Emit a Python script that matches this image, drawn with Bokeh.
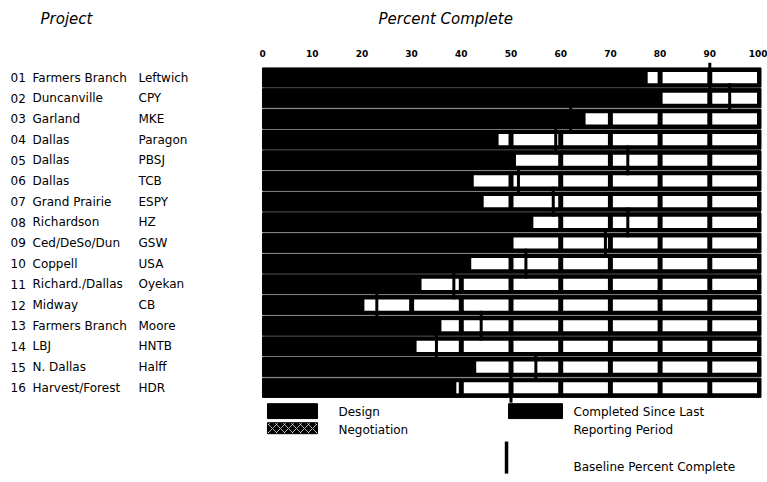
from bokeh.plotting import figure
from bokeh.models import Range1d, FixedTicker
from bokeh.layouts import column
from bokeh.embed import file_html
from bokeh.resources import INLINE
from bokeh.core.properties import value

# ---------------- data ----------------
proj_ids = ["01", "02", "03", "04", "05", "06", "07", "08",
            "09", "10", "11", "12", "13", "14", "15", "16"]
cities = ["Farmers Branch", "Duncanville", "Garland", "Dallas", "Dallas", "Dallas",
          "Grand Prairie", "Richardson", "Ced/DeSo/Dun", "Coppell", "Richard./Dallas",
          "Midway", "Farmers Branch", "LBJ", "N. Dallas", "Harvest/Forest"]
firms = ["Leftwich", "CPY", "MKE", "Paragon", "PBSJ", "TCB", "ESPY", "HZ",
         "GSW", "USA", "Oyekan", "CB", "Moore", "HNTB", "Halff", "HDR"]
percent_complete = [77, 80, 64.5, 47, 50.5, 42, 44, 54, 50, 41.5, 31.5, 20, 35.5, 30.5, 42.5, 38.5]
baseline_complete = [90, 94, 62, 59, 73.5, 51.5, 58.5, 73.5, 69, 53, 38.5, 23, 44, 35, 55, 50]
tick_values = [0, 10, 20, 30, 40, 50, 60, 70, 80, 90, 100]
legend_labels = ["Design", "Negotiation", "Completed Since Last", "Reporting Period",
                 "Baseline Percent Complete"]
headers = ["Project", "Percent Complete"]

FONT = "DejaVu Sans"
rows = list(range(1, len(cities) + 1))
full = 100
X_RANGE = (-52.72, 101.61)

# ---------------- header strip ----------------
head = figure(width=767, height=36, x_range=Range1d(*X_RANGE), y_range=Range1d(0, 1),
              x_axis_location=None, y_axis_location=None,
              toolbar_location=None, output_backend="svg",
              min_border=0)
head.grid.visible = False
head.outline_line_color = None
head.text(x=[-44.67, 23.34], y=[0.5, 0.5], text=headers, text_font=value(FONT),
          text_font_style="italic", text_font_size="15px", text_baseline="middle",
          text_color="black")

# ---------------- main chart ----------------
p = figure(width=767, height=446,
           x_range=Range1d(*X_RANGE), y_range=Range1d(20.58, 0.176),
           x_axis_location="above", y_axis_location=None,
           toolbar_location=None, output_backend="svg",
           min_border_left=0, min_border_right=0, min_border_bottom=0, min_border_top=24)
p.grid.visible = False
p.outline_line_color = None
p.background_fill_color = "white"
p.border_fill_color = "white"

ax = p.xaxis[0]
ax.ticker = FixedTicker(ticks=tick_values)
ax.axis_line_color = None
ax.major_tick_line_color = None
ax.minor_tick_line_color = None
ax.major_tick_out = 0
ax.major_tick_in = 0
ax.major_label_standoff = 4
ax.major_label_text_font = FONT
ax.major_label_text_font_size = "9px"
ax.major_label_text_font_style = "bold"
ax.major_label_text_color = "black"

# black row bands
p.hbar(y=rows, left=0, right=full + 0.3, height=0.93, fill_color="black",
       line_color="black", line_width=1)

# white empty cells for the remaining percentage, split by the 10% grid
gap = 0.5
cl, cr, cy = [], [], []
for r, c in zip(rows, percent_complete):
    for k in range(0, full, 10):
        left = max(c, k) + gap
        right = k + 10 - gap
        if right > left:
            cl.append(left)
            cr.append(right)
            cy.append(r)
p.quad(left=cl, right=cr, bottom=[y + 0.27 for y in cy], top=[y - 0.27 for y in cy],
       fill_color="white", line_color=None)

# baseline markers
p.segment(x0=baseline_complete, x1=baseline_complete,
          y0=[r - 0.72 for r in rows], y1=[r + 0.72 for r in rows],
          line_color="black", line_width=3)

# project labels
for xpos, labels in ((-50.7, proj_ids), (-46.28, cities), (-24.95, firms)):
    p.text(x=xpos, y=rows, text=labels, text_font=value(FONT), text_font_size="12px",
           text_baseline="middle", text_color="black")

# legend
p.quad(left=[1.0, 49.5], right=[11.07, 60.36], top=[16.77, 16.77], bottom=[17.49, 17.49],
       fill_color="black", line_color="black")
p.quad(left=[1.0], right=[11.07], top=[17.69], bottom=[18.22],
       fill_color="black", line_color="black",
       hatch_pattern="diagonal_cross", hatch_color="white", hatch_scale=8,
       hatch_weight=1, hatch_alpha=0.7)
p.segment(x0=[49.1], x1=[49.1], y0=[18.6], y1=[20.15], line_color="black", line_width=3.5)
p.text(x=[15.29, 15.29, 62.58, 62.58, 62.58], y=[17.17, 18.02, 17.17, 18.02, 19.84],
       text=legend_labels, text_font=value(FONT), text_font_size="12px",
       text_baseline="middle", text_color="black")

layout = column(head, p, spacing=0)
open("out.html", "w").write(file_html(layout, INLINE))
